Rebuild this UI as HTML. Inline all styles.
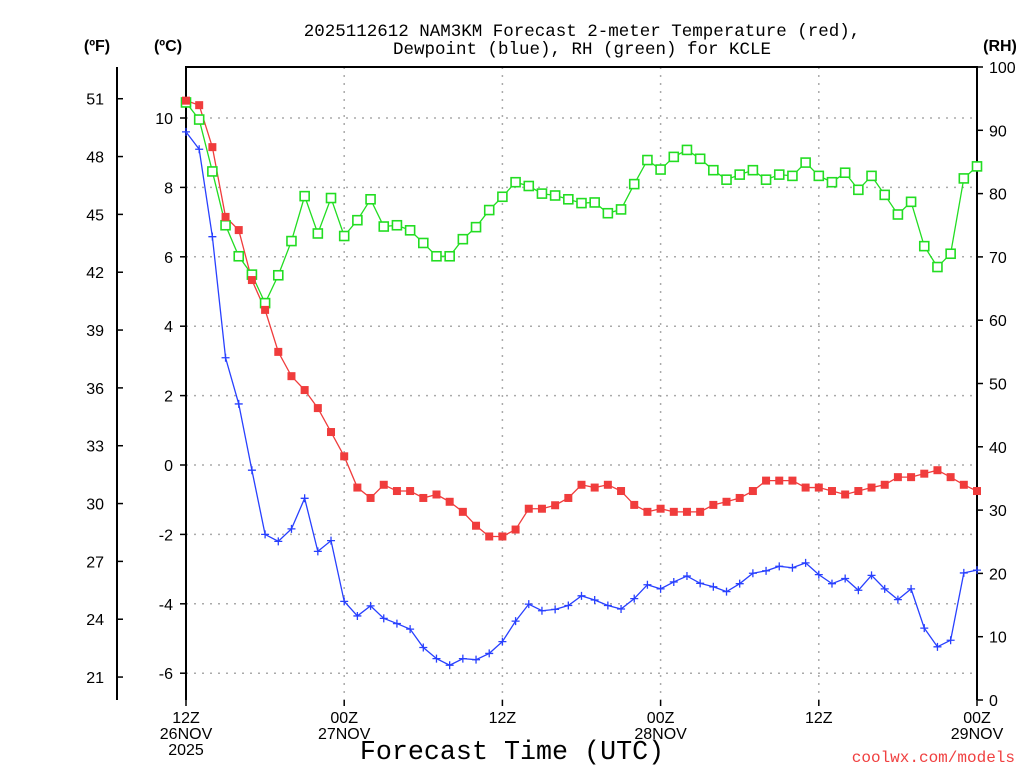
<!DOCTYPE html>
<html><head><meta charset="utf-8"><style>
body{margin:0;background:#fff}
svg{display:block}
text{font-family:"Liberation Sans",sans-serif}
</style></head><body>
<svg id="chart" width="1024" height="768" viewBox="0 0 1024 768" xmlns="http://www.w3.org/2000/svg">
<text x="582" y="36" font-size="17.5" text-anchor="middle" font-family="Liberation Mono, monospace" style="font-family:'Liberation Mono',monospace">2025112612 NAM3KM Forecast 2-meter Temperature (red),</text>
<text x="582" y="54" font-size="17.5" text-anchor="middle" style="font-family:'Liberation Mono',monospace">Dewpoint (blue), RH (green) for KCLE</text>
<text x="97" y="51" font-size="16" font-weight="bold" text-anchor="middle">(ºF)</text>
<text x="168" y="51" font-size="16" font-weight="bold" text-anchor="middle">(ºC)</text>
<text x="1000" y="51" font-size="16" font-weight="bold" text-anchor="middle">(RH)</text>
<text x="512" y="759" font-size="26.7" text-anchor="middle" style="font-family:'Liberation Mono',monospace">Forecast Time (UTC)</text>
<text x="1015" y="762" font-size="16" fill="#f04040" text-anchor="end" style="font-family:'Liberation Mono',monospace">coolwx.com/models</text>
<g id="grid"></g><g id="axes"></g><g id="series"></g>
</svg>
<script>
const hours = Array.from({length:61},(_,i)=>i);
const tempC = [10.5,10.37,9.16,7.15,6.77,5.33,4.47,3.26,2.56,2.16,1.64,0.95,0.25,-0.65,-0.95,-0.57,-0.75,-0.75,-0.95,-0.85,-1.06,-1.35,-1.75,-2.06,-2.06,-1.86,-1.26,-1.26,-1.16,-0.95,-0.57,-0.65,-0.57,-0.75,-1.15,-1.35,-1.26,-1.35,-1.35,-1.35,-1.15,-1.06,-0.95,-0.75,-0.45,-0.45,-0.45,-0.65,-0.65,-0.75,-0.85,-0.75,-0.65,-0.57,-0.35,-0.35,-0.25,-0.15,-0.35,-0.57,-0.75];
const dewC = [9.6,9.1,6.58,3.09,1.76,-0.15,-2.0,-2.2,-1.84,-0.96,-2.49,-2.18,-3.93,-4.35,-4.06,-4.42,-4.57,-4.73,-5.26,-5.58,-5.77,-5.58,-5.61,-5.43,-5.09,-4.5,-4.01,-4.2,-4.16,-4.05,-3.77,-3.89,-4.05,-4.15,-3.85,-3.45,-3.57,-3.37,-3.2,-3.41,-3.51,-3.65,-3.42,-3.12,-3.05,-2.92,-2.96,-2.82,-3.16,-3.42,-3.27,-3.61,-3.18,-3.57,-3.88,-3.57,-4.7,-5.24,-5.05,-3.11,-3.03];
const rh = [94.4,91.7,83.5,75.0,70.1,67.2,62.7,67.1,72.5,79.6,73.7,79.3,73.3,75.8,79.1,74.8,75.0,74.2,72.2,70.1,70.1,72.8,74.7,77.4,79.5,81.8,81.2,80.0,79.7,79.1,78.5,78.6,76.9,77.5,81.5,85.3,83.8,85.8,86.9,85.5,83.7,82.2,83.0,83.7,82.2,83.0,82.8,84.9,82.8,81.8,83.3,80.6,82.8,79.8,76.7,78.7,71.7,68.4,70.5,82.4,84.3];
const cTicks = [10,8,6,4,2,0,-2,-4,-6];
const fTicks = [51,48,45,42,39,36,33,30,27,24,21];
const rhTicks = [100,90,80,70,60,50,40,30,20,10,0];
const xTickHours = [0,12,24,36,48,60];
const xTickLabels = [["12Z","26NOV","2025"],["00Z","27NOV"],["12Z"],["00Z","28NOV"],["12Z"],["00Z","29NOV"]];

const L=186,R=977,T=67,B=700;
const xs=h=>L+h*(R-L)/60;
const yC=c=>465-c*34.7;
const yF=f=>yC((f-32)*5/9);
const yR=r=>B-r*(B-T)/100;
const NS="http://www.w3.org/2000/svg";
function mk(tag,attrs,parent,txt){const e=document.createElementNS(NS,tag);for(const k in attrs)e.setAttribute(k,attrs[k]);if(txt!==undefined)e.textContent=txt;parent.appendChild(e);return e;}
const grid=document.getElementById('grid'),axes=document.getElementById('axes'),ser=document.getElementById('series');

cTicks.forEach(c=>{
  const g=mk('line',{x1:L,x2:R,y1:yC(c),y2:yC(c),stroke:'#aaa','stroke-width':1.5,'stroke-dasharray':'2,6'},grid);
  
  
  mk('line',{x1:L-6,x2:L,y1:yC(c),y2:yC(c),stroke:'#000','stroke-width':1.5},axes);
  const t=mk('text',{x:L-13,y:yC(c)+6,'font-size':16,'text-anchor':'end'},axes,c);
  
  
});
xTickHours.slice(1,-1).forEach(h=>{
  const g=mk('line',{x1:xs(h),x2:xs(h),y1:T,y2:B,stroke:'#aaa','stroke-width':1.5,'stroke-dasharray':'2,6'},grid);
  
  
});
fTicks.forEach(f=>{
  mk('line',{x1:117,x2:123,y1:yF(f),y2:yF(f),stroke:'#000','stroke-width':1.5},axes);
  const t=mk('text',{x:104,y:yF(f)+6,'font-size':16,'text-anchor':'end'},axes,f);
  
  
});
rhTicks.forEach(r=>{
  mk('line',{x1:R,x2:R+6,y1:yR(r),y2:yR(r),stroke:'#000','stroke-width':1.5},axes);
  const t=mk('text',{x:989,y:yR(r)+6,'font-size':16},axes,r);
  
  
});
xTickHours.forEach((h,i)=>{
  mk('line',{x1:xs(h),x2:xs(h),y1:B,y2:B+6,stroke:'#000','stroke-width':1.5},axes);
  xTickLabels[i].forEach((s,j)=>{
    const t=mk('text',{x:xs(h),y:723+j*16,'font-size':16,'text-anchor':'middle'},axes,s);
    
    
  });
});
const fr=mk('path',{d:`M${L},${B}V${T}H${R}V${B}`,fill:'none',stroke:'#000','stroke-width':2},axes);


const fl=mk('line',{x1:117,x2:117,y1:T,y2:B,stroke:'#000','stroke-width':2},axes);



function line(vals,yf,color,name){
  const p=mk('polyline',{points:vals.map((v,i)=>xs(hours[i])+','+yf(v)).join(' '),fill:'none',stroke:color,'stroke-width':1.3},ser);
  
  
}
line(rh,yR,'#22dd22','rh-line');
line(tempC,yC,'#f03c3c','temperature-line');
line(dewC,yC,'#2840ff','dewpoint-line');
rh.forEach((v,i)=>{
  const m=mk('rect',{x:xs(hours[i])-4.5,y:yR(v)-4.5,width:9,height:9,fill:'#fff',stroke:'#22dd22','stroke-width':1.6},ser);
  
  
});
tempC.forEach((v,i)=>{
  const m=mk('rect',{x:xs(hours[i])-4,y:yC(v)-4,width:8,height:8,fill:'#f03c3c'},ser);
  
  
});
dewC.forEach((v,i)=>{
  const x=xs(hours[i]),y=yC(v);
  const m=mk('path',{d:`M${x-4},${y}H${x+4}M${x},${y-4}V${y+4}`,stroke:'#2840ff','stroke-width':1.3},ser);
  
  
});
</script>
</body></html>
